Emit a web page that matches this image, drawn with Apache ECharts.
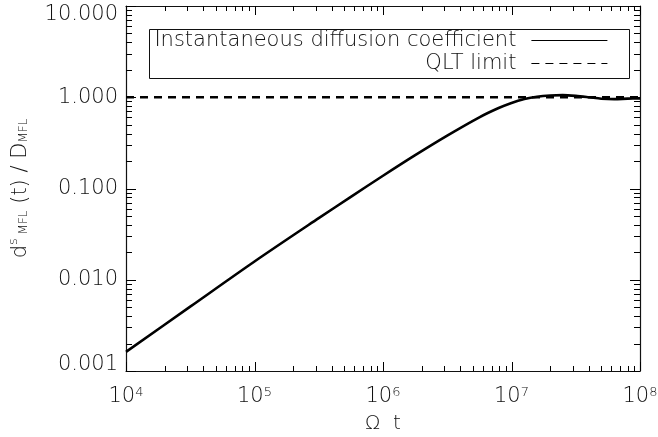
<!DOCTYPE html>
<html><head><meta charset="utf-8">
<script src="https://cdn.jsdelivr.net/npm/echarts@6/dist/echarts.min.js"></script>
<style>html,body{margin:0;padding:0;background:#fff}#c{width:658px;height:437px}</style>
</head><body><div id="c"></div>
<script>
// ---- data ----
const timeValues = [1e4, 3.16e4, 1e5, 3.16e5, 5.62e5, 1e6, 1.78e6, 3.16e6, 5.62e6, 7.94e6, 1e7, 1.26e7, 1.58e7, 2e7, 2.5e7, 3.16e7, 4e7, 5e7, 6.3e7, 8e7, 1e8];
const diffValues = [0.00162, 0.00507, 0.01585, 0.0473, 0.081, 0.138, 0.232, 0.380, 0.603, 0.762, 0.867, 0.955, 1.014, 1.045, 1.054, 1.035, 1.0, 0.964, 0.953, 0.966, 0.973];
const qltTimes = [1e4, 1e8];
const qltValues = [1, 1];
const seriesNames = ['Instantaneous diffusion coefficient', 'QLT limit'];
const xDecades = [1e4, 1e5, 1e6, 1e7];
const yDecades = [0.001, 0.01, 0.1, 1];
const minorMultipliers = [2, 3, 4, 5, 6, 7, 8, 9];
const xMajor = [1e4, 1e5, 1e6, 1e7, 1e8];
const yMajor = [0.001, 0.01, 0.1, 1, 10];

const FONT = 'DejaVu Sans';
const FW = 200;
const INK = '#111';

const xMinor = [], yMinor = [];
xDecades.forEach(d => minorMultipliers.forEach(m => xMinor.push(d * m)));
yDecades.forEach(d => minorMultipliers.forEach(m => yMinor.push(d * m)));

const chart = echarts.init(document.getElementById('c'), null, {renderer: 'canvas'});

function mkAxisLine() { return {show: true, lineStyle: {color: INK, width: 1.2}}; }

function yLabel(v) {
  const s = Number(v).toFixed(3);
  if (v > 5) return '{top|' + s + '}';
  if (v < 0.002) return '{bot|' + s + '}';
  return '{n|' + s + '}';
}
const yLabelBase = {fontFamily: FONT, fontWeight: FW, fontSize: 21, color: INK};

chart.setOption({
  animation: false,
  backgroundColor: '#fff',
  textStyle: {fontFamily: FONT},
  grid: {left: 126, right: 18, top: 6, bottom: 66, outerBoundsMode: 'none', containLabel: false},
  xAxis: [
    {type: 'log', logBase: 10, min: 1e4, max: 1e8, splitLine: {show: false}, position: 'bottom',
      axisLine: mkAxisLine(), axisTick: {show: false},
      name: 'Ω  t', nameLocation: 'middle', nameGap: 43,
      nameTextStyle: {fontFamily: FONT, fontWeight: FW, fontSize: 20, color: INK},
      axisLabel: {
        margin: 15,
        formatter: v => '{b|10}{s|' + Math.round(Math.log10(v)) + '}',
        rich: {
          b: {fontFamily: FONT, fontWeight: FW, fontSize: 21, lineHeight: 21, padding: [4, 0, 0, 0], verticalAlign: 'bottom', color: INK},
          s: {fontFamily: FONT, fontWeight: FW, fontSize: 13, lineHeight: 13, verticalAlign: 'top', color: INK}
        }
      }
    },
    {type: 'log', logBase: 10, min: 1e4, max: 1e8, splitLine: {show: false}, position: 'top',
      axisLine: mkAxisLine(), axisTick: {show: false}, axisLabel: {show: false}}
  ],
  yAxis: [
    {type: 'log', logBase: 10, min: 0.001, max: 10, splitLine: {show: false}, position: 'left',
      axisLine: mkAxisLine(), axisTick: {show: false},
      name: '{m|d}{sup|s}{sub| MFL}{m| (t) / D}{sub|MFL}',
      nameLocation: 'middle', nameGap: 73, nameRotate: 90,
      nameTextStyle: {
        rich: {
          m: {fontFamily: FONT, fontWeight: FW, fontSize: 21, lineHeight: 26, verticalAlign: 'middle', color: INK},
          sup: {fontFamily: FONT, fontWeight: FW, fontSize: 13, lineHeight: 13, verticalAlign: 'top', color: INK},
          sub: {fontFamily: FONT, fontWeight: FW, fontSize: 12, lineHeight: 12, padding: [0, 0, 4, 0], verticalAlign: 'bottom', color: INK}
        }
      },
      axisLabel: {margin: 8, formatter: yLabel,
        rich: {
          n: Object.assign({}, yLabelBase),
          top: Object.assign({padding: [18, 0, 0, 0]}, yLabelBase),
          bot: Object.assign({padding: [0, 0, 12, 0]}, yLabelBase)
        }}
    },
    {type: 'log', logBase: 10, min: 0.001, max: 10, splitLine: {show: false}, position: 'right',
      axisLine: mkAxisLine(), axisTick: {show: false}, axisLabel: {show: false}}
  ],
  legend: [
    {data: [seriesNames[0]], right: 50, top: 30, align: 'right', itemWidth: 76, itemHeight: 12, padding: 0,
     textStyle: {fontFamily: FONT, fontWeight: FW, fontSize: 21, color: INK, padding: [0, 10, 0, 0]},
     lineStyle: {width: 1.2}, itemStyle: {opacity: 0}, selectedMode: false},
    {data: [seriesNames[1]], right: 50, top: 53, align: 'right', itemWidth: 76, itemHeight: 12, padding: 0,
     textStyle: {fontFamily: FONT, fontWeight: FW, fontSize: 21, color: INK, padding: [0, 10, 0, 0]},
     lineStyle: {width: 1.2}, itemStyle: {opacity: 0}, selectedMode: false}
  ],
  graphic: [{type: 'rect', left: 147, top: 27, shape: {width: 480, height: 49},
    style: {fill: 'none', stroke: INK, lineWidth: 1}, silent: true}],
  series: [
    {name: seriesNames[0], type: 'line', symbol: 'none', smooth: 0.3,
     data: timeValues.map((t, i) => [t, diffValues[i]]),
     lineStyle: {color: '#000', width: 2.6}, itemStyle: {color: '#000'}, z: 3},
    {name: seriesNames[1], type: 'line', symbol: 'none',
     data: qltTimes.map((t, i) => [t, qltValues[i]]),
     lineStyle: {color: '#000', width: 2.4, type: [8, 6]}, itemStyle: {color: '#000'}, z: 2},
    {type: 'custom', silent: true, clip: false, data: [[1e6, 1]], z: 10,
     renderItem: function (params, api) {
       const cs = params.coordSys;
       const children = [];
       const snap = v => Math.round(v) + 0.5;
       const seg = (x1, y1, x2, y2) => children.push({type: 'line', shape: {x1: x1, y1: y1, x2: x2, y2: y2},
         style: {stroke: '#000', lineWidth: 1}});
       const bot = cs.y + cs.height, top = cs.y, lft = cs.x, rgt = cs.x + cs.width;
       xMinor.forEach(v => { const px = snap(api.coord([v, 1])[0]); seg(px, bot, px, bot - 5); seg(px, top, px, top + 5); });
       xMajor.forEach(v => { const px = snap(api.coord([v, 1])[0]); seg(px, bot, px, bot - 9); seg(px, top, px, top + 9); });
       yMinor.forEach(v => { const py = snap(api.coord([1e6, v])[1]); seg(lft, py, lft + 6, py); seg(rgt, py, rgt - 6, py); });
       yMajor.forEach(v => { const py = snap(api.coord([1e6, v])[1]); seg(lft, py, lft + 10, py); seg(rgt, py, rgt - 10, py); });
       return {type: 'group', children: children};
     }}
  ]
});
</script>
</body></html>
